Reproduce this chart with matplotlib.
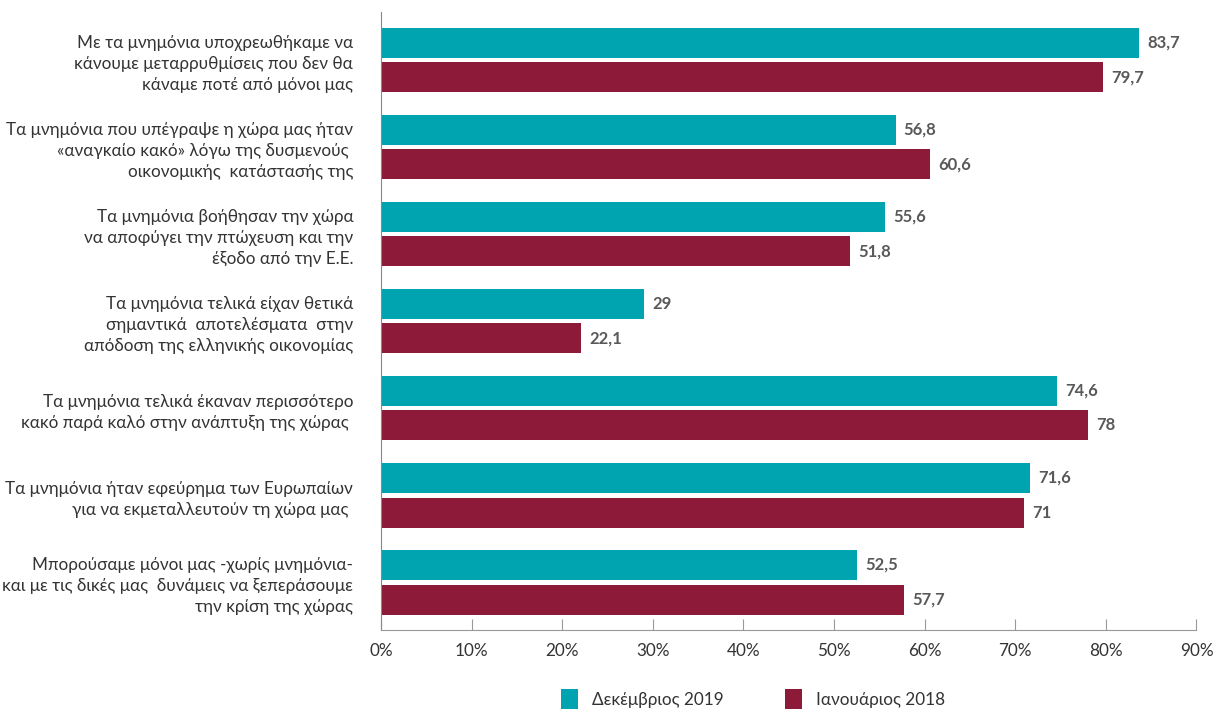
import numpy as np
import matplotlib
matplotlib.use("Agg")
import matplotlib.pyplot as plt

categories = [
    "Με τα μνημόνια υποχρεωθήκαμε να\nκάνουμε μεταρρυθμίσεις που δεν θα\nκάναμε ποτέ από μόνοι μας",
    "Τα μνημόνια που υπέγραψε η χώρα μας ήταν\n«αναγκαίο κακό» λόγω της δυσμενούς \nοικονομικής  κατάστασής της",
    "Τα μνημόνια βοήθησαν την χώρα\nνα αποφύγει την πτώχευση και την\nέξοδο από την Ε.Ε.",
    "Τα μνημόνια τελικά είχαν θετικά\nσημαντικά  αποτελέσματα  στην\nαπόδοση της ελληνικής οικονομίας",
    "Τα μνημόνια τελικά έκαναν περισσότερο\nκακό παρά καλό στην ανάπτυξη της χώρας ",
    "Τα μνημόνια ήταν εφεύρημα των Ευρωπαίων\nγια να εκμεταλλευτούν τη χώρα μας ",
    "Μπορούσαμε μόνοι μας -χωρίς μνημόνια-\nκαι με τις δικές μας  δυνάμεις να ξεπεράσουμε\nτην κρίση της χώρας",
]
dec_2019 = [83.7, 56.8, 55.6, 29, 74.6, 71.6, 52.5]
jan_2018 = [79.7, 60.6, 51.8, 22.1, 78, 71, 57.7]
series_names = ["Δεκέμβριος 2019", "Ιανουάριος 2018"]

teal = "#00A4B1"
maroon = "#8C1A38"
label_col = "#333333"
value_col = "#595959"

plt.rcParams["font.family"] = ["Lato", "DejaVu Sans"]

fig = plt.figure(figsize=(12.18, 7.09), dpi=100)
ax = fig.add_axes([0.3128, 0.1114, 0.6695, 0.8716])

y = np.arange(len(categories))
h = 0.345
off = 0.2
b1 = ax.barh(y - off, dec_2019, height=h, color=teal, label=series_names[0])
b2 = ax.barh(y + off, jan_2018, height=h, color=maroon, label=series_names[1])

def fmt(v):
    return (f"{v:g}").replace(".", ",")

# τιμές δίπλα στις μπάρες
for bars, vals in ((b1, dec_2019), (b2, jan_2018)):
    for bar, v in zip(bars, vals):
        ax.text(v + 0.9, bar.get_y() + bar.get_height() / 2, fmt(v),
                va="center", ha="left", fontsize=12, fontweight="bold", color=value_col)

ax.set_ylim(6.55, -0.55)
ax.set_xlim(0, 90)
ax.set_xticks(np.arange(0, 91, 10))
ax.set_xticklabels([f"{t}%" for t in range(0, 91, 10)], fontsize=12.3, color=label_col)
ax.set_yticks(y)
ax.set_yticklabels(categories, fontsize=12.3, color=label_col, ha="right", linespacing=1.4)
ax.tick_params(axis="y", length=0, pad=20)
ax.tick_params(axis="x", direction="in", length=8, color="#999999", pad=9)

for s in ("top", "right"):
    ax.spines[s].set_visible(False)
ax.spines["left"].set_color("#888888")
ax.spines["bottom"].set_color("#999999")

fig.legend(handles=[b1, b2], loc="center", bbox_to_anchor=(0.618, 0.013), ncol=2,
           frameon=False, fontsize=12.3, handlelength=1.0, handleheight=1.6,
           handletextpad=0.8, columnspacing=3.6, labelcolor=label_col)

fig.savefig("out.png", dpi=100)
